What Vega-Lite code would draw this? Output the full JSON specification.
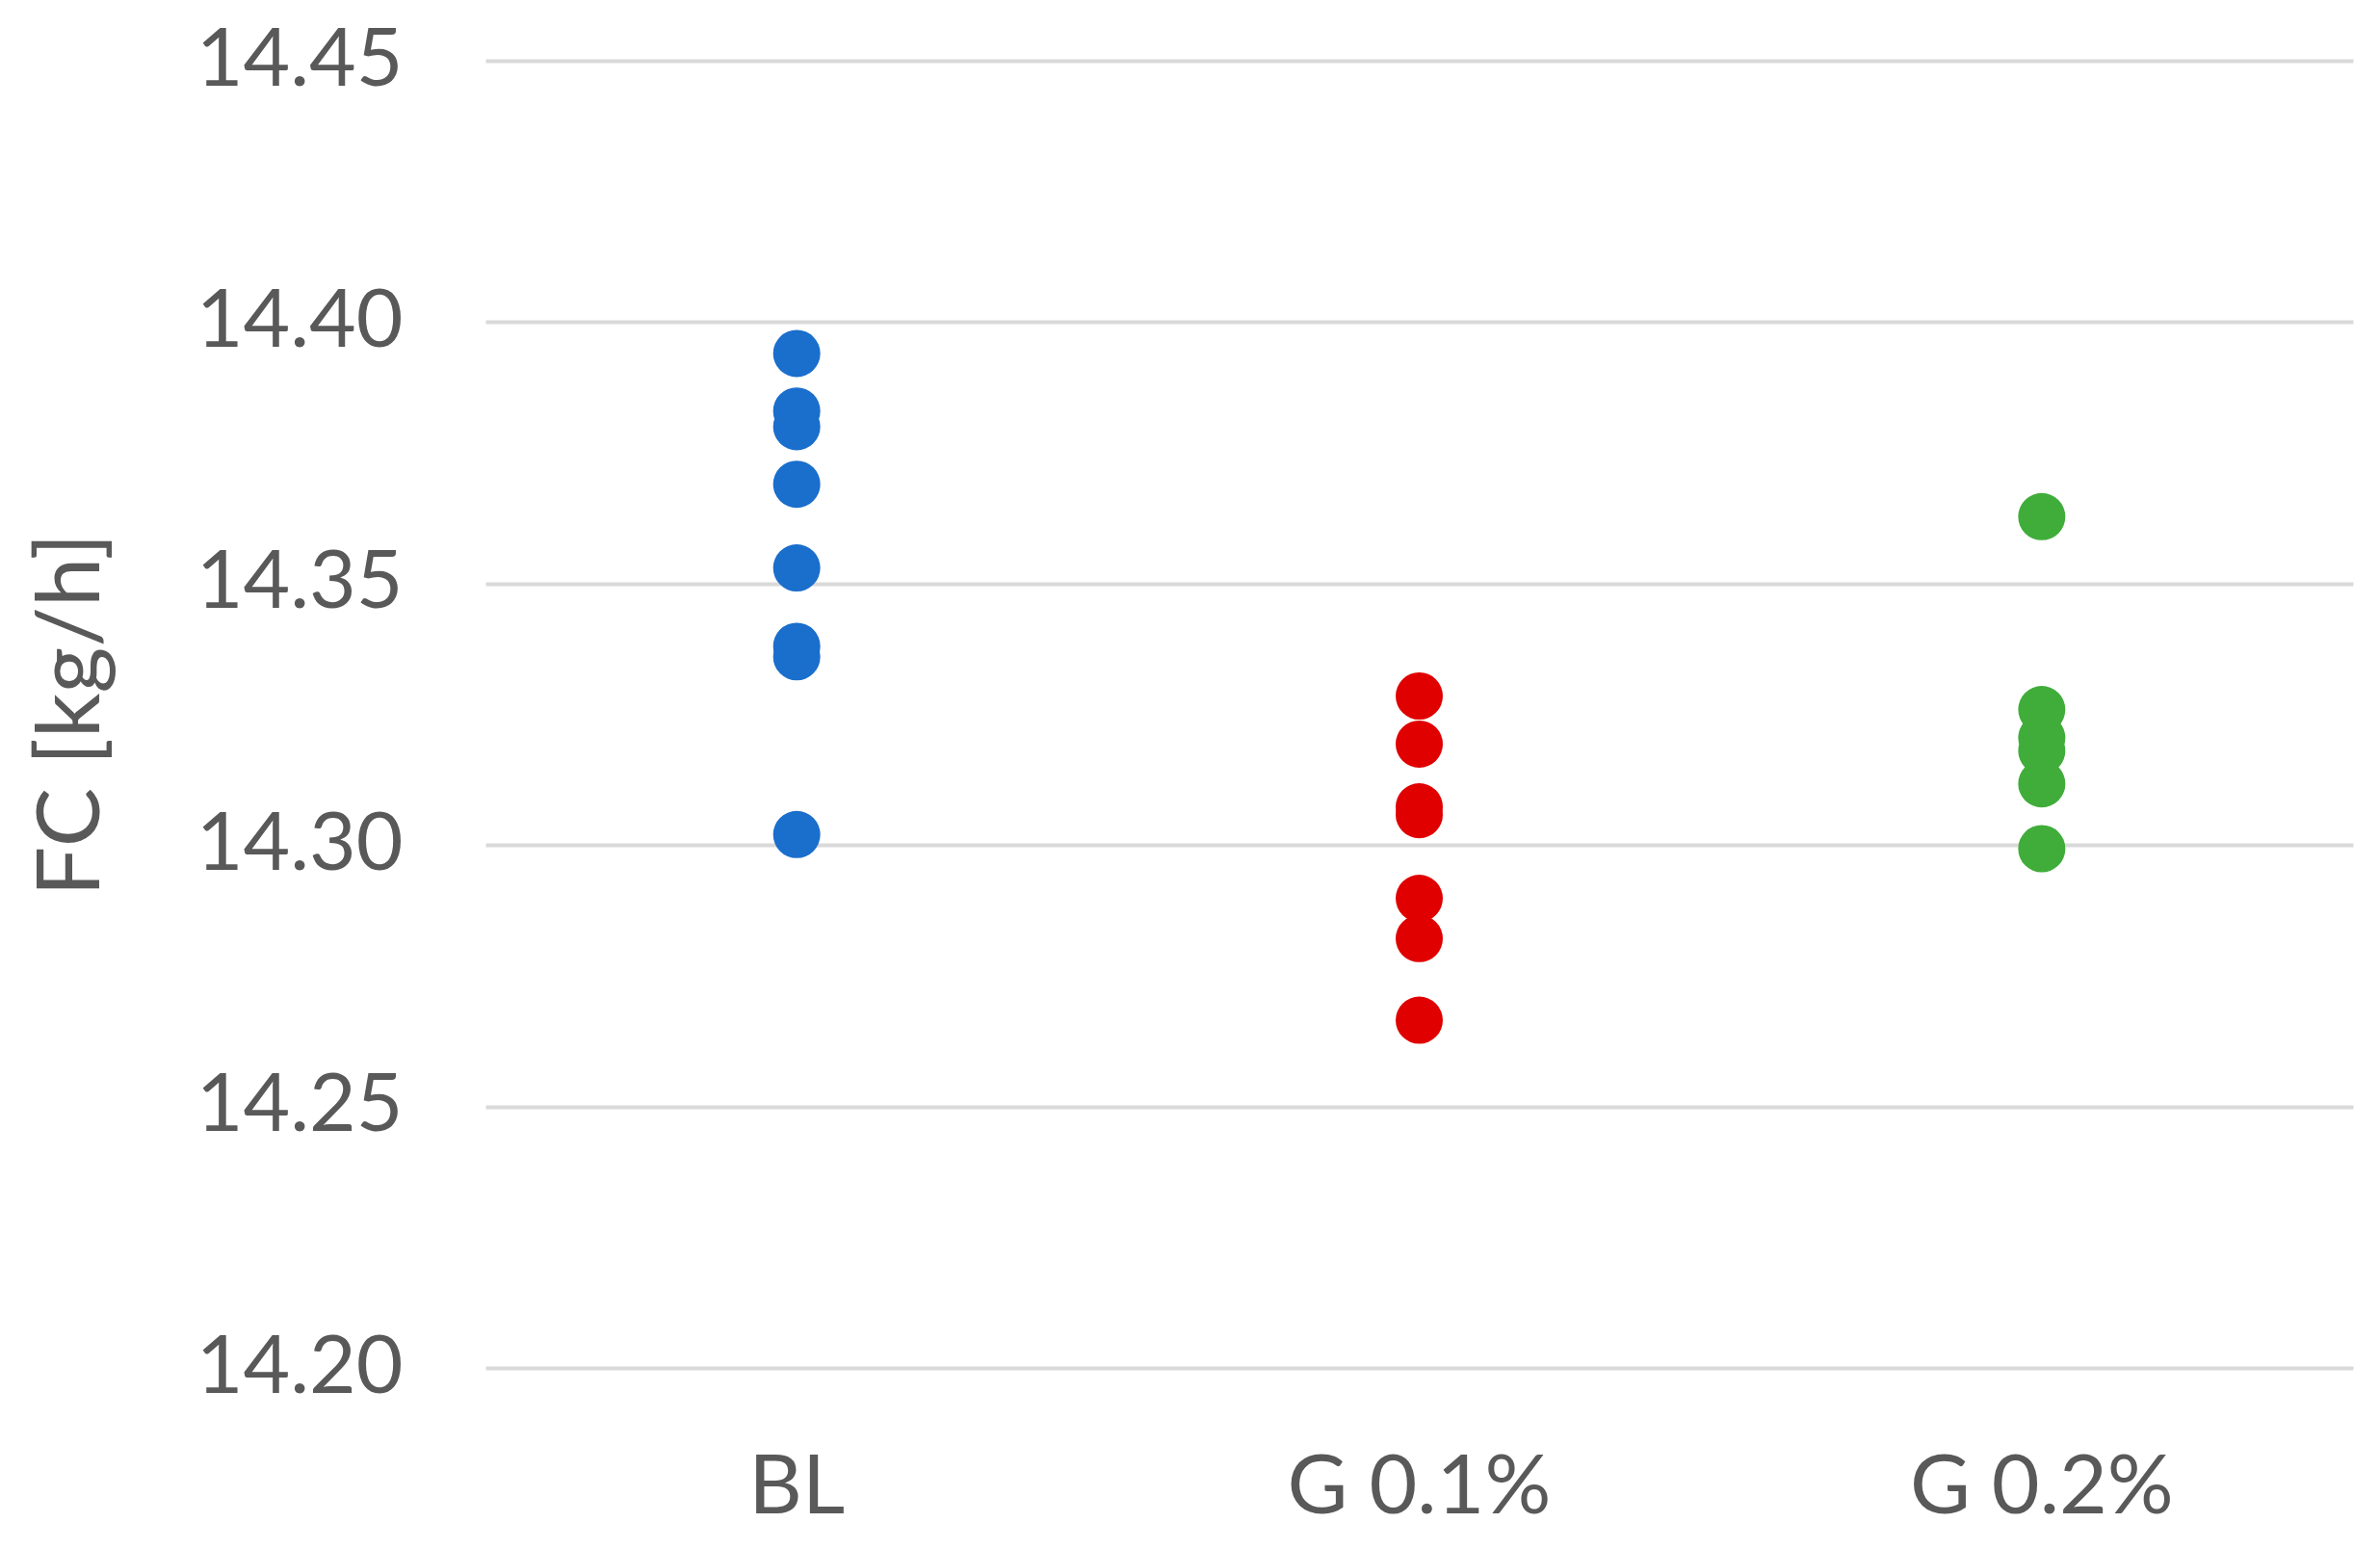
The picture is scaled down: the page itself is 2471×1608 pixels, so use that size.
{
  "$schema": "https://vega.github.io/schema/vega-lite/v6.json",
  "width": 1939,
  "height": 1357,
  "autosize": {"type": "none"},
  "padding": {"left": 504, "top": 63, "right": 28, "bottom": 188},
  "background": "white",
  "config": {"view": {"stroke": null}, "font": "Lato"},
  "data": {
    "values": [
      {"group": "BL", "fc": 14.394},
      {"group": "BL", "fc": 14.383},
      {"group": "BL", "fc": 14.380},
      {"group": "BL", "fc": 14.369},
      {"group": "BL", "fc": 14.353},
      {"group": "BL", "fc": 14.338},
      {"group": "BL", "fc": 14.336},
      {"group": "BL", "fc": 14.302},
      {"group": "G 0.1%", "fc": 14.3285},
      {"group": "G 0.1%", "fc": 14.3193},
      {"group": "G 0.1%", "fc": 14.3073},
      {"group": "G 0.1%", "fc": 14.3058},
      {"group": "G 0.1%", "fc": 14.2898},
      {"group": "G 0.1%", "fc": 14.2821},
      {"group": "G 0.1%", "fc": 14.2665},
      {"group": "G 0.2%", "fc": 14.3628},
      {"group": "G 0.2%", "fc": 14.3259},
      {"group": "G 0.2%", "fc": 14.3205},
      {"group": "G 0.2%", "fc": 14.318},
      {"group": "G 0.2%", "fc": 14.3117},
      {"group": "G 0.2%", "fc": 14.2993}
    ]
  },
  "mark": {"type": "circle", "size": 2400, "opacity": 1},
  "encoding": {
    "x": {
      "field": "group",
      "type": "nominal",
      "sort": ["BL", "G 0.1%", "G 0.2%"],
      "scale": {"type": "band", "paddingInner": 0, "paddingOuter": 0},
      "axis": {
        "title": null,
        "labelAngle": 0,
        "labelFontSize": 86,
        "labelColor": "#595959",
        "labelBaseline": "top",
        "labelPadding": 82,
        "labelLimit": 0,
        "ticks": false,
        "domain": false,
        "grid": false
      }
    },
    "y": {
      "field": "fc",
      "type": "quantitative",
      "scale": {"domain": [14.2, 14.45], "zero": false, "nice": false},
      "axis": {
        "title": "FC [kg/h]",
        "titleFontSize": 92,
        "titleFontWeight": "normal",
        "titleColor": "#595959",
        "titleX": -430,
        "titleBaseline": "middle",
        "values": [14.2, 14.25, 14.3, 14.35, 14.4, 14.45],
        "format": ".2f",
        "labelFontSize": 84,
        "labelColor": "#595959",
        "labelPadding": 86,
        "labelLimit": 0,
        "ticks": false,
        "domain": false,
        "grid": true,
        "gridColor": "#d9d9d9",
        "gridWidth": 4
      }
    },
    "color": {
      "field": "group",
      "type": "nominal",
      "scale": {"domain": ["BL", "G 0.1%", "G 0.2%"], "range": ["#1a6ecc", "#e00000", "#40ad3a"]},
      "legend": null
    }
  }
}
